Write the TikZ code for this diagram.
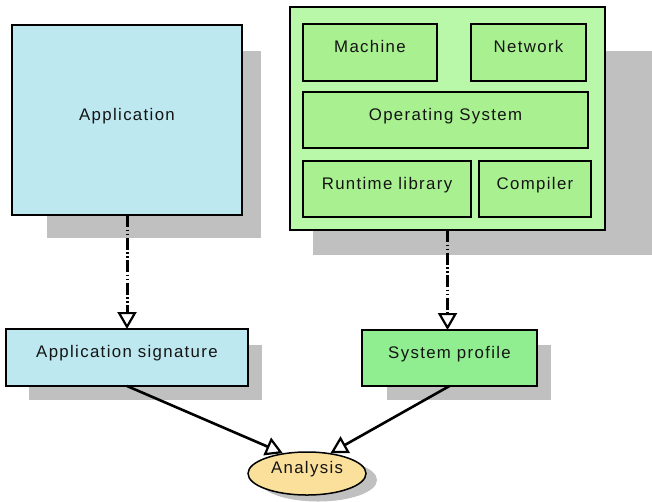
\documentclass[tikz,border=0pt]{standalone}
\usepackage{fontspec}
\setmainfont{Liberation Sans}[LetterSpace=8]
\usetikzlibrary{arrows.meta,shapes.geometric}
\definecolor{appblue}{HTML}{BDE8F0}
\definecolor{platgreen}{HTML}{B8F8A8}
\definecolor{partgreen}{HTML}{A8F090}
\definecolor{profgreen}{HTML}{90EE90}
\definecolor{analysisfill}{HTML}{FAE09A}
\definecolor{shadowgray}{HTML}{C0C0C0}
\begin{document}
\begin{tikzpicture}[x=1pt,y=-1pt,
  box/.style={draw=black, line width=1.3pt, rectangle, inner sep=0pt, outer sep=0pt},
  shadowfill/.style={fill=shadowgray},
  lbl/.style={anchor=base, inner sep=0pt, text=black!92, font=\fontsize{16.8}{19}\selectfont},
  opentip/.style={-{Triangle[open,fill=white,length=17pt,width=19pt,line width=2.2pt]}},
  dep/.style={line width=3pt, dash pattern=on 12pt off 2.5pt on 1.5pt off 2.5pt on 1.5pt off 2.5pt, opentip},
  feed/.style={line width=2.6pt, opentip}
]
\fill[white] (0,0) rectangle (652,501);
\path[use as bounding box] (0,0) rectangle (652,501);

% drop shadows
\fill[shadowfill] (47,51) rectangle (261,238);
\fill[shadowfill] (313,51) rectangle (652,255);
\fill[shadowfill] (29,345) rectangle (262,400);
\fill[shadowfill] (387,345) rectangle (551,400);
\fill[shadowfill] (318,480) ellipse [x radius=59pt, y radius=21.5pt];

% application side
\node[box, fill=appblue, minimum width=230pt, minimum height=190pt] (app) at (127,120) {};
\node[lbl] (apptext) at (app.center) {Application};

% platform side
\node[box, fill=platgreen, minimum width=315pt, minimum height=223pt] (plat) at (447.5,118.5) {};
\node[box, fill=partgreen, minimum width=134pt, minimum height=57pt] (machine) at (370,52.5) {};
\node[box, fill=partgreen, minimum width=115pt, minimum height=57pt] (network) at (528.5,52.5) {};
\node[box, fill=partgreen, minimum width=285pt, minimum height=56pt] (os) at (445.5,120) {};
\node[box, fill=partgreen, minimum width=168pt, minimum height=56pt] (runtime) at (387,189) {};
\node[box, fill=partgreen, minimum width=112pt, minimum height=56pt] (compiler) at (535,189) {};
\node[lbl] (machinetext) at (machine.center) {Machine};
\node[lbl] (networktext) at (network.center) {Network};
\node[lbl] (ostext) at (os.center) {Operating System};
\node[lbl] (runtimetext) at (runtime.center) {Runtime library};
\node[lbl] (compilertext) at (compiler.center) {Compiler};

% derived descriptions
\node[box, fill=appblue, minimum width=242pt, minimum height=57pt] (sig) at (127,357.5) {};
\node[lbl] (sigtext) at (sig.center) {Application signature};
\node[box, fill=profgreen, minimum width=175pt, minimum height=56pt] (prof) at (449.5,358) {};
\node[lbl] (proftext) at (prof.center) {System profile};

% analysis
\node[draw=black, line width=1.5pt, fill=analysisfill, ellipse, inner sep=0pt,
      minimum width=118pt, minimum height=43pt] (an) at (307,473.5) {};
\node[lbl] (antext) at (an.center) {Analysis};

% connectors
\draw[dep] (app.south) -- (sig.north);
\draw[dep] (plat.south) -- (plat.south |- prof.north);
\draw[feed] (sig.south) -- (an.140);
\draw[feed] (prof.south) -- (an.41);
\end{tikzpicture}
\end{document}
